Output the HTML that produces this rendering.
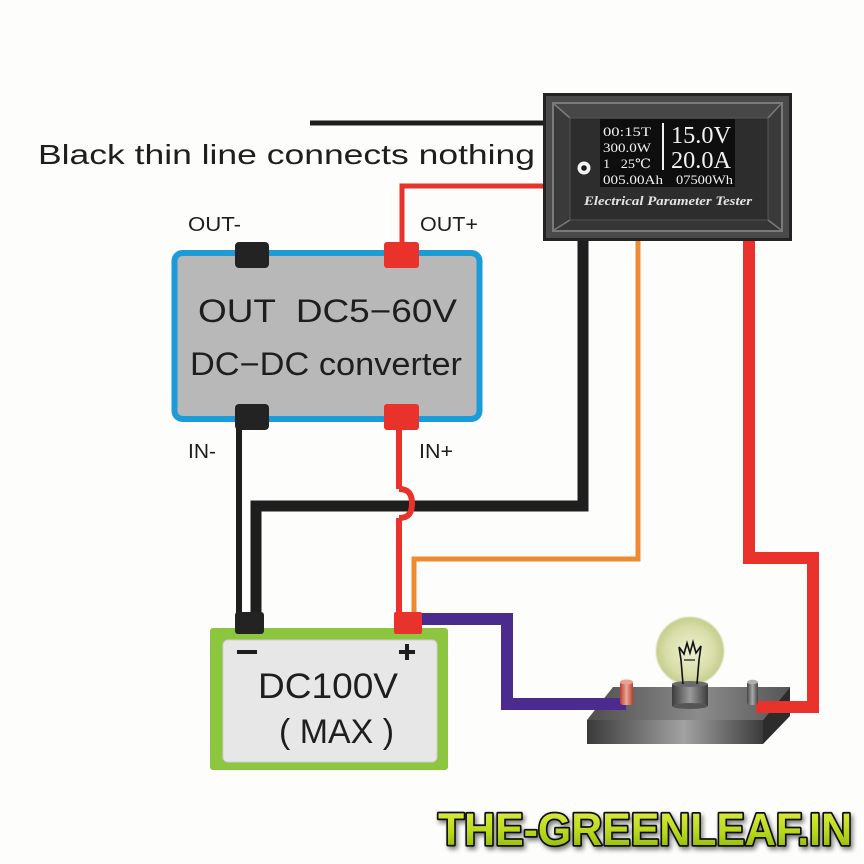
<!DOCTYPE html>
<html>
<head>
<meta charset="utf-8">
<style>
html,body{margin:0;padding:0;background:#fdfdfc;}
svg{display:block;}
</style>
</head>
<body>
<svg width="864" height="864" viewBox="0 0 864 864" xmlns="http://www.w3.org/2000/svg">
<defs>
  <linearGradient id="baseFront" x1="0" y1="0" x2="1" y2="0">
    <stop offset="0" stop-color="#3a3a3a"/>
    <stop offset="0.55" stop-color="#a2a2a2"/>
    <stop offset="1" stop-color="#3c3c3c"/>
  </linearGradient>
  <linearGradient id="baseTop" x1="0" y1="0" x2="1" y2="0">
    <stop offset="0" stop-color="#4e4e4e"/>
    <stop offset="0.55" stop-color="#8c8c8c"/>
    <stop offset="1" stop-color="#555"/>
  </linearGradient>
  <linearGradient id="sock" x1="0" y1="0" x2="1" y2="0">
    <stop offset="0" stop-color="#3c3c3c"/>
    <stop offset="0.5" stop-color="#9a9a9a"/>
    <stop offset="1" stop-color="#3c3c3c"/>
  </linearGradient>
  <linearGradient id="postR" x1="0" y1="0" x2="1" y2="0">
    <stop offset="0" stop-color="#c0392b"/>
    <stop offset="0.5" stop-color="#e9a898"/>
    <stop offset="1" stop-color="#c0392b"/>
  </linearGradient>
  <linearGradient id="postG" x1="0" y1="0" x2="1" y2="0">
    <stop offset="0" stop-color="#444"/>
    <stop offset="0.5" stop-color="#a8a8a8"/>
    <stop offset="1" stop-color="#444"/>
  </linearGradient>
  <radialGradient id="bulb" cx="0.5" cy="0.5" r="0.5">
    <stop offset="0" stop-color="#eef0d2"/>
    <stop offset="0.7" stop-color="#d8dea8"/>
    <stop offset="1" stop-color="#c4cc8c"/>
  </radialGradient>
  <linearGradient id="wm" x1="0" y1="0" x2="0" y2="1">
    <stop offset="0" stop-color="#e6f04a"/>
    <stop offset="0.55" stop-color="#b8d81c"/>
    <stop offset="1" stop-color="#86ae08"/>
  </linearGradient>
  <filter id="sh" x="-5%" y="-30%" width="110%" height="160%">
    <feGaussianBlur in="SourceAlpha" stdDeviation="2.5"/>
    <feOffset dx="2" dy="3" result="b"/>
    <feComponentTransfer><feFuncA type="linear" slope="0.5"/></feComponentTransfer>
    <feMerge><feMergeNode/><feMergeNode in="SourceGraphic"/></feMerge>
  </filter>
  <filter id="soft"><feGaussianBlur stdDeviation="0.8"/></filter>
</defs>

<rect x="0" y="0" width="864" height="864" fill="#fdfdfc"/>

<!-- caption -->
<text x="38" y="164" font-family="Liberation Sans, Arial, sans-serif" font-size="28" fill="#1e1e1e" textLength="497" lengthAdjust="spacingAndGlyphs">Black  thin  line connects  nothing</text>

<!-- thin black line -->
<line x1="310" y1="123" x2="545" y2="123" stroke="#1e1e1e" stroke-width="5"/>

<!-- lamp base (under wires) -->
<polygon points="613,687 790,687 763,720 587,720" fill="url(#baseTop)"/>
<polygon points="790,687 790,716 763,744 763,720" fill="#2c2c2c"/>
<rect x="587" y="720" width="176" height="24" fill="url(#baseFront)"/>

<!-- wires -->
<g fill="none" stroke-linejoin="miter" stroke-linecap="butt">
  <path d="M402,250 V186 H545" stroke="#e8322b" stroke-width="5"/>
  <path d="M239,428 V616" stroke="#1e1e1e" stroke-width="6"/>
  <path d="M638,238 V559 H414 V616" stroke="#f08a2e" stroke-width="5"/>
  <path d="M399,428 V489" stroke="#e8322b" stroke-width="6"/>
  <path d="M399,518 V616" stroke="#e8322b" stroke-width="6"/>
  <path d="M256,616 V506 H583 V238" stroke="#1e1e1e" stroke-width="11"/>
  <path d="M399,489 C410,489 412,496 412,503.5 C412,511 410,518 399,518" stroke="#e8322b" stroke-width="6"/>
  <path d="M420,619 H507 V704 H626" stroke="#4b2b8e" stroke-width="12"/>
  <path d="M749,238 V558 H813 V707 H756" stroke="#e8322b" stroke-width="12"/>
</g>

<!-- tester -->
<rect x="543" y="93" width="249" height="148" fill="#232323"/>
<rect x="546" y="96" width="243" height="142" fill="#4a4a4a"/>
<rect x="553" y="103" width="229" height="128" fill="#3a3a3a" stroke="#7a7a7a" stroke-width="2"/>
<polygon points="554,104 781,104 768,118 570,118" fill="#474747"/>
<polygon points="554,230 781,230 768,220 570,220" fill="#353535"/>
<line x1="554" y1="104" x2="570" y2="118" stroke="#7a7a7a" stroke-width="1.5"/>
<line x1="781" y1="104" x2="768" y2="118" stroke="#7a7a7a" stroke-width="1.5"/>
<line x1="554" y1="230" x2="570" y2="220" stroke="#7a7a7a" stroke-width="1.5"/>
<line x1="781" y1="230" x2="768" y2="220" stroke="#7a7a7a" stroke-width="1.5"/>
<rect x="570" y="118" width="198" height="102" fill="#2d2d2d" stroke="#555" stroke-width="1"/>
<rect x="600" y="119" width="135" height="68" fill="#0e0e0e"/>
<circle cx="584" cy="168" r="6.5" fill="#f4f4f4"/>
<circle cx="584" cy="168" r="2.8" fill="#1a1a1a"/>
<g font-family="Liberation Serif, DejaVu Serif, serif" fill="#f2f2f2">
  <text x="603" y="136" font-size="13" textLength="48" lengthAdjust="spacingAndGlyphs">00:15T</text>
  <text x="603" y="152" font-size="13" textLength="48" lengthAdjust="spacingAndGlyphs">300.0W</text>
  <text x="603" y="168" font-size="13" xml:space="preserve" textLength="48" lengthAdjust="spacingAndGlyphs">1   25℃</text>
  <text x="603" y="184" font-size="13" textLength="60" lengthAdjust="spacingAndGlyphs">005.00Ah</text>
  <text x="671" y="143" font-size="24" textLength="60" lengthAdjust="spacingAndGlyphs">15.0V</text>
  <text x="671" y="168" font-size="24" textLength="60" lengthAdjust="spacingAndGlyphs">20.0A</text>
  <text x="676" y="184" font-size="13" textLength="57" lengthAdjust="spacingAndGlyphs">07500Wh</text>
  <text x="584" y="205" font-size="12.5" font-style="italic" font-weight="bold" fill="#e4e4e4" textLength="168" lengthAdjust="spacingAndGlyphs">Electrical Parameter Tester</text>
</g>
<line x1="663" y1="123" x2="663" y2="170" stroke="#f2f2f2" stroke-width="2"/>

<!-- converter -->
<rect x="174.5" y="253" width="305" height="166" rx="8" fill="#b8b8b8" stroke="#1d9ad8" stroke-width="6"/>
<rect x="235" y="242" width="34" height="26" rx="4" fill="#232323"/>
<rect x="384" y="242" width="35" height="26" rx="3" fill="#e8322b"/>
<rect x="235" y="404" width="34" height="26" rx="4" fill="#232323"/>
<rect x="384" y="404" width="35" height="26" rx="3" fill="#e8322b"/>
<g font-family="Liberation Sans, Arial, sans-serif" fill="#1e1e1e">
  <text x="198" y="322" font-size="32" xml:space="preserve" textLength="259" lengthAdjust="spacingAndGlyphs">OUT  DC5−60V</text>
  <text x="190" y="375" font-size="32" textLength="272" lengthAdjust="spacingAndGlyphs">DC−DC converter</text>
  <text x="188" y="231" font-size="20" textLength="53" lengthAdjust="spacingAndGlyphs">OUT-</text>
  <text x="420" y="231" font-size="20" textLength="58" lengthAdjust="spacingAndGlyphs">OUT+</text>
  <text x="188" y="458" font-size="20" textLength="28" lengthAdjust="spacingAndGlyphs">IN-</text>
  <text x="419" y="458" font-size="20" textLength="34" lengthAdjust="spacingAndGlyphs">IN+</text>
</g>

<!-- battery -->
<rect x="210" y="628" width="238" height="142" rx="3" fill="#8cc63f"/>
<rect x="223" y="640" width="214" height="122" rx="5" fill="#e7e7e7" stroke="#cfcfcf" stroke-width="1"/>
<rect x="235" y="612" width="29" height="22" rx="3" fill="#232323"/>
<rect x="394" y="612" width="28" height="22" rx="2" fill="#e8322b"/>
<rect x="237" y="650" width="20" height="4" fill="#1e1e1e"/>
<rect x="399" y="650" width="16" height="4" fill="#1e1e1e"/>
<rect x="405" y="644" width="4" height="16" fill="#1e1e1e"/>
<g font-family="Liberation Sans, Arial, sans-serif" fill="#1e1e1e">
  <text x="258" y="698" font-size="35" textLength="140" lengthAdjust="spacingAndGlyphs">DC100V</text>
  <text x="279" y="743" font-size="34" xml:space="preserve" textLength="115" lengthAdjust="spacingAndGlyphs">( MAX )</text>
</g>

<!-- lamp posts -->
<rect x="620" y="681" width="13" height="24" rx="3" fill="url(#postR)"/>
<ellipse cx="626.5" cy="682" rx="6.5" ry="2.5" fill="#e8a090"/>
<rect x="747" y="681" width="11" height="24" rx="3" fill="url(#postG)"/>
<ellipse cx="752.5" cy="682" rx="5.5" ry="2.2" fill="#b0b0b0"/>

<!-- bulb -->
<circle cx="690" cy="651" r="34" fill="url(#bulb)" filter="url(#soft)"/>
<rect x="672" y="684" width="36" height="22" fill="url(#sock)"/>
<ellipse cx="690" cy="706" rx="18" ry="3" fill="#555"/>
<ellipse cx="690" cy="684" rx="18" ry="3" fill="#6a6a6a"/>
<path d="M683,684 L681,660 L679,647 L684,654 L687,643 L690,653 L693,642 L696,653 L701,646 L699,660 L697,684" fill="none" stroke="#111" stroke-width="1.6" stroke-linejoin="miter"/>
<path d="M684,660 L695,660" stroke="#111" stroke-width="1.2"/>

<!-- watermark -->
<text x="438" y="845" font-family="Liberation Sans, DejaVu Sans, sans-serif" font-weight="bold" font-size="45" fill="url(#wm)" stroke="#111" stroke-width="3.5" paint-order="stroke" stroke-linejoin="round" textLength="414" lengthAdjust="spacingAndGlyphs" filter="url(#sh)">THE-GREENLEAF.IN</text>
</svg>
</body>
</html>
